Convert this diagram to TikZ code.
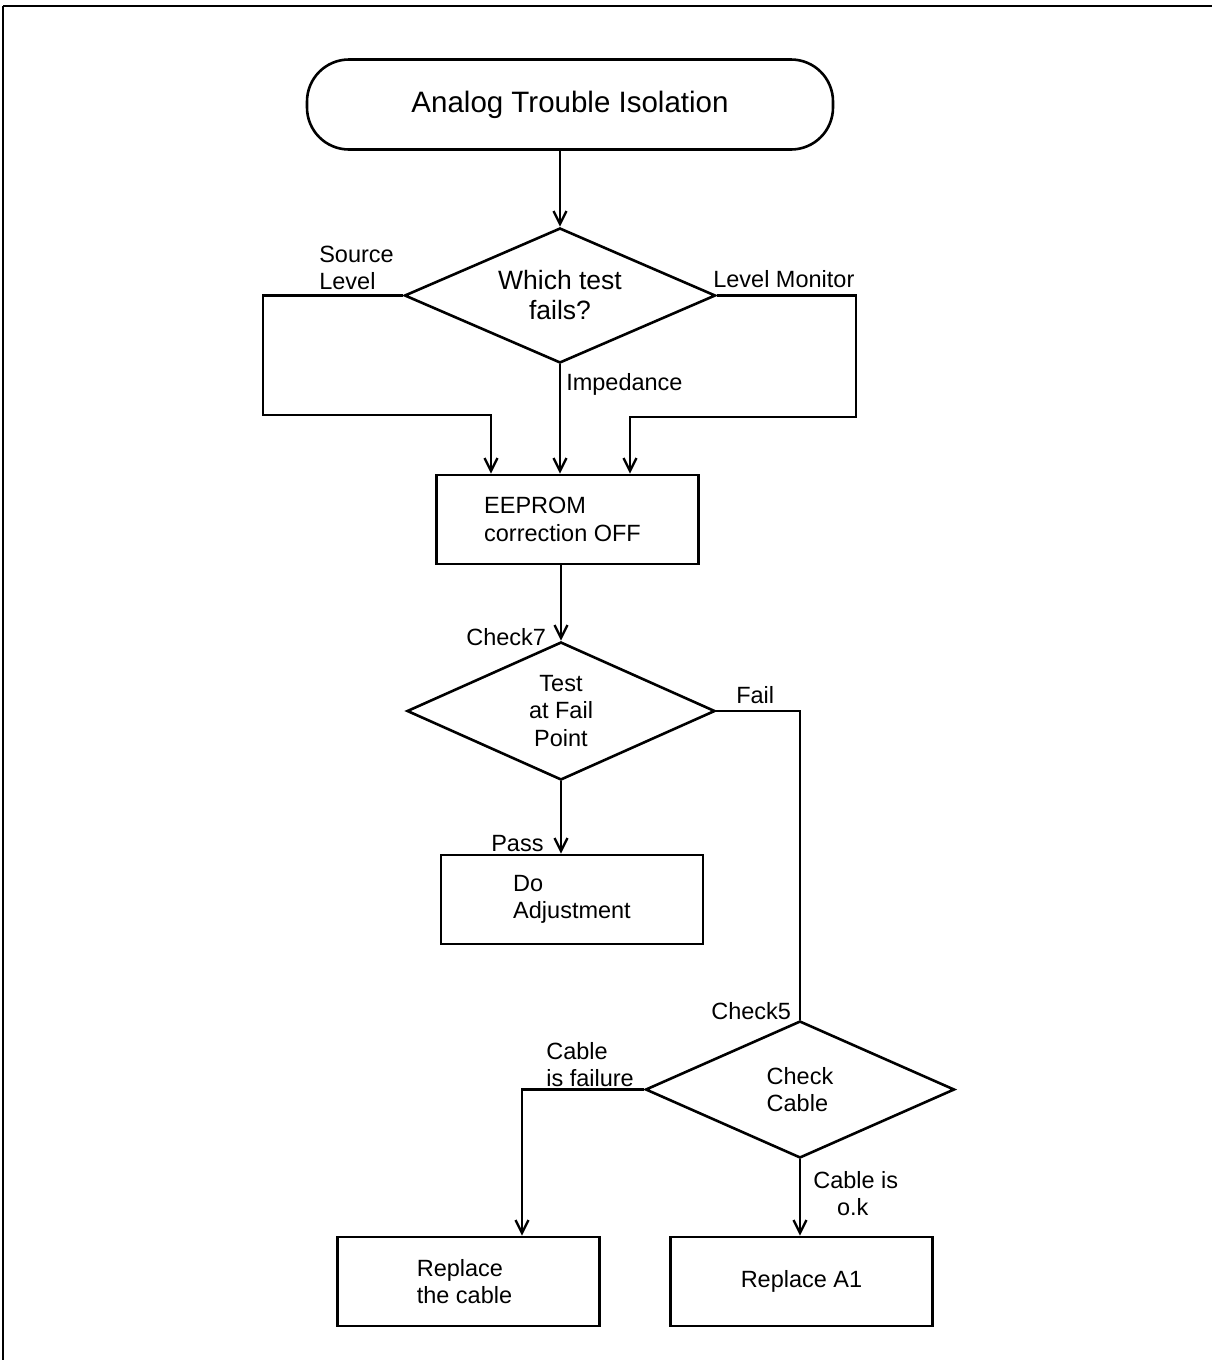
\documentclass[tikz,border=0pt]{standalone}
\usepackage{fontspec}
\setmainfont{Liberation Sans}
\usetikzlibrary{shapes.geometric,arrows.meta}
\begin{document}
\begin{tikzpicture}[x=1pt,y=-1pt,
  line width=2.6pt,
  txt/.style={font=\fontsize{23.5}{27.5}\selectfont},
  lbl/.style={txt,inner sep=0pt,align=left},
  boxn/.style={draw,rectangle,txt,align=left,minimum width=262pt,minimum height=89pt,inner sep=0pt},
  dia/.style={draw,diamond,txt,align=center,inner sep=0pt,aspect=2.3},
  arr/.style={-{Straight Barb[length=13pt,width=13pt,line width=2.4pt]}}]
\useasboundingbox (0,0) rectangle (1211,1360);
\draw[line width=2.4pt] (3,6) -- (1220,6);
\draw[line width=2.4pt] (3,6) -- (3,1370);
% nodes
\node[draw,rectangle,rounded corners=42pt,minimum width=526pt,minimum height=90pt,inner sep=0pt,
  font=\fontsize{29.5}{32}\selectfont] (title) at (570,104.5) {Analog Trouble Isolation};
\node[dia,minimum width=311pt,minimum height=135pt,font=\fontsize{26.5}{30}\selectfont] (d1) at (560,295.5) {Which test\\fails?};
\node[boxn] (eeprom) at (567.5,519.5) {EEPROM\\correction OFF\hspace*{10pt}};
\node[dia,minimum width=308pt,minimum height=138pt] (d2) at (561,711) {Test\\at Fail\\Point};
\node[boxn] (doadj) at (572,899.5) {Do\\Adjustment};
\node[dia,minimum width=309pt,minimum height=137pt,align=left] (d3) at (800,1089.5) {Check\\Cable};
\node[boxn,align=left] (repc) at (468.5,1281.5) {Replace\\the cable\hspace*{8pt}};
\node[boxn,align=center] (repa) at (801.5,1281.5) {Replace A1};
% coordinates for connector routes
\coordinate (slc) at (263,415);
\coordinate (slt) at (491,475);
\coordinate (lmc) at (856,417);
\coordinate (lmt) at (630,475);
\coordinate (cfc) at (522,1237);
% connectors
\draw[arr] (d1.north |- title.south) -- (d1.north);
\draw[arr] (d1.west) -| (slc) -| (slt |- eeprom.north);
\draw[arr] (d1.east) -| (lmc) -| (lmt |- eeprom.north);
\draw[arr] (d1.south) -- (d1.south |- eeprom.north);
\draw[arr] (d2.north |- eeprom.south) -- (d2.north);
\draw[arr] (d2.south) -- (d2.south |- doadj.north);
\draw (d2.east) -| (d3.north);
\draw[arr] (d3.west) -| (cfc |- repc.north);
\draw[arr] (d3.south) -- (d3.south |- repa.north);
% labels
\node[lbl,anchor=west] (lsl) at (318,268) {Source\\Level};
\node[lbl,anchor=west] (llm) at (712,279) {Level Monitor};
\node[lbl,anchor=west] (limp) at (565,384) {Impedance};
\node[lbl,anchor=west] (lc7) at (465,637) {Check7};
\node[lbl,anchor=west] (lfail) at (735,695) {Fail};
\node[lbl,anchor=west] (lpass) at (490,844) {Pass};
\node[lbl,anchor=west] (lc5) at (710,1011) {Check5};
\node[lbl,anchor=west] (lcf) at (545,1064.5) {Cable\\is failure};
\node[lbl,anchor=west,align=center] (lok) at (812,1193.5) {Cable is\\o.k\hspace*{6pt}};
\end{tikzpicture}
\end{document}
